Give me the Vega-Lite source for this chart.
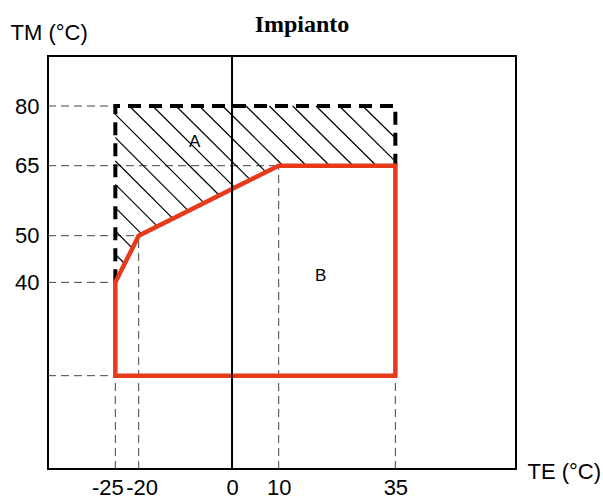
{
  "$schema": "https://vega.github.io/schema/vega-lite/v6.json",
  "width": 468,
  "height": 413,
  "autosize": "none",
  "padding": {"left": 48, "top": 56, "right": 87, "bottom": 28},
  "background": "white",
  "config": {
    "view": {"stroke": "black", "strokeWidth": 2},
    "font": "Liberation Sans"
  },
  "title": {
    "text": "Impianto",
    "font": "Liberation Serif",
    "fontSize": 24,
    "fontWeight": "bold",
    "color": "black",
    "anchor": "middle",
    "frame": "group",
    "dx": 20,
    "dy": 36,
    "offset": 20
  },
  "datasets": {
    "guides": [
      {"x": -39.43, "y": 80, "x2": -25, "y2": 80},
      {"x": -39.43, "y": 65, "x2": 10, "y2": 65},
      {"x": -39.43, "y": 50, "x2": -20, "y2": 50},
      {"x": -39.43, "y": 40, "x2": -25, "y2": 40},
      {"x": -39.43, "y": 20, "x2": -25, "y2": 20},
      {"x": -25, "y": 0, "x2": -25, "y2": 20},
      {"x": -20, "y": 0, "x2": -20, "y2": 50},
      {"x": 10, "y": 0, "x2": 10, "y2": 65},
      {"x": 35, "y": 0, "x2": 35, "y2": 20}
    ],
    "hatch": [
      {"x": -22, "y": 80, "x2": -2.74, "y2": 58.67},
      {"x": -17, "y": 80, "x2": 0.6, "y2": 60.3},
      {"x": -12, "y": 80, "x2": 3.94, "y2": 61.97},
      {"x": -7, "y": 80, "x2": 7.29, "y2": 63.62},
      {"x": -2, "y": 80, "x2": 10.93, "y2": 65},
      {"x": 3, "y": 80, "x2": 15.94, "y2": 65},
      {"x": 8, "y": 80, "x2": 20.93, "y2": 65},
      {"x": 13, "y": 80, "x2": 25.93, "y2": 65},
      {"x": 18, "y": 80, "x2": 30.94, "y2": 65},
      {"x": 23, "y": 80, "x2": 35, "y2": 66.1},
      {"x": 28, "y": 80, "x2": 35, "y2": 71.96},
      {"x": -25, "y": 77.91, "x2": -6.02, "y2": 57.02},
      {"x": -25, "y": 72.04, "x2": -9.39, "y2": 55.37},
      {"x": -25, "y": 66.18, "x2": -12.71, "y2": 53.7},
      {"x": -25, "y": 61.0, "x2": -16.05, "y2": 52.05},
      {"x": -25, "y": 56.0, "x2": -19.39, "y2": 50.38},
      {"x": -25, "y": 51.0, "x2": -21.36, "y2": 47.35},
      {"x": -25, "y": 46.0, "x2": -23.03, "y2": 44.03}
    ],
    "border": [
      {"i": 1, "x": -25, "y": 40},
      {"i": 2, "x": -25, "y": 80},
      {"i": 3, "x": 35, "y": 80},
      {"i": 4, "x": 35, "y": 65}
    ],
    "zone": [
      {"i": 1, "x": -25, "y": 20},
      {"i": 2, "x": -25, "y": 40},
      {"i": 3, "x": -20, "y": 50},
      {"i": 4, "x": 10, "y": 65},
      {"i": 5, "x": 35, "y": 65},
      {"i": 6, "x": 35, "y": 20},
      {"i": 7, "x": -25, "y": 20}
    ],
    "labels": [
      {"x": -8, "y": 71, "label": "A"},
      {"x": 19, "y": 41.4, "label": "B"}
    ]
  },
  "layer": [
    {
      "data": {"name": "guides"},
      "mark": {"type": "rule", "color": "#444444", "strokeWidth": 1, "strokeDash": [8, 5]},
      "encoding": {
        "x": {
          "field": "x", "type": "quantitative",
          "scale": {"domain": [-39.43, 60.85], "nice": false, "zero": false},
          "axis": {
            "values": [-25, -20, 0, 10, 35],
            "labelExpr": "'' + datum.value",
            "ticks": false, "domain": false, "grid": false,
            "labelFontSize": 22, "labelColor": "black", "labelPadding": 8,
            "labelOverlap": false, "labelFlush": false, "labelBound": false,
            "labelOffset": {"expr": "datum.value == -25 ? -8 : datum.value == -20 ? 3 : 0"},
            "title": "TE (°C)", "titleFontSize": 22, "titleFontWeight": "normal", "titleColor": "black",
            "titleAlign": "left", "titleBaseline": "alphabetic", "titleX": 479, "titleY": 9
          }
        },
        "y": {
          "field": "y", "type": "quantitative",
          "scale": {"domain": [0, 65, 80, 92.6], "range": [413, 109.7, 50, 0], "nice": false, "zero": false},
          "axis": {
            "values": [40, 50, 65, 80],
            "ticks": false, "domain": false, "grid": false,
            "labelFontSize": 22, "labelColor": "black", "labelPadding": 9,
            "title": "TM (°C)", "titleFontSize": 22, "titleFontWeight": "normal", "titleColor": "black",
            "titleAngle": 0, "titleAlign": "left", "titleBaseline": "alphabetic", "titleX": -38, "titleY": -17
          }
        },
        "x2": {"field": "x2"},
        "y2": {"field": "y2"}
      }
    },
    {
      "data": {"name": "hatch"},
      "mark": {"type": "rule", "color": "black", "strokeWidth": 1.2},
      "encoding": {
        "x": {"field": "x", "type": "quantitative"},
        "y": {"field": "y", "type": "quantitative"},
        "x2": {"field": "x2"},
        "y2": {"field": "y2"}
      }
    },
    {
      "data": {"name": "border"},
      "mark": {"type": "line", "color": "black", "strokeWidth": 4, "strokeDash": [13, 8], "strokeJoin": "miter"},
      "encoding": {
        "x": {"field": "x", "type": "quantitative"},
        "y": {"field": "y", "type": "quantitative"},
        "order": {"field": "i"}
      }
    },
    {
      "data": {"name": "zone"},
      "mark": {"type": "line", "color": "#e63a1a", "strokeWidth": 4.5, "strokeJoin": "miter", "strokeCap": "square"},
      "encoding": {
        "x": {"field": "x", "type": "quantitative"},
        "y": {"field": "y", "type": "quantitative"},
        "order": {"field": "i"}
      }
    },
    {
      "data": {"values": [{"x": 0}]},
      "mark": {"type": "rule", "color": "black", "strokeWidth": 2},
      "encoding": {
        "x": {"field": "x", "type": "quantitative"}
      }
    },
    {
      "data": {"name": "labels"},
      "mark": {"type": "text", "fontSize": 17, "color": "black", "font": "Liberation Sans"},
      "encoding": {
        "x": {"field": "x", "type": "quantitative"},
        "y": {"field": "y", "type": "quantitative"},
        "text": {"field": "label"}
      }
    }
  ]
}
